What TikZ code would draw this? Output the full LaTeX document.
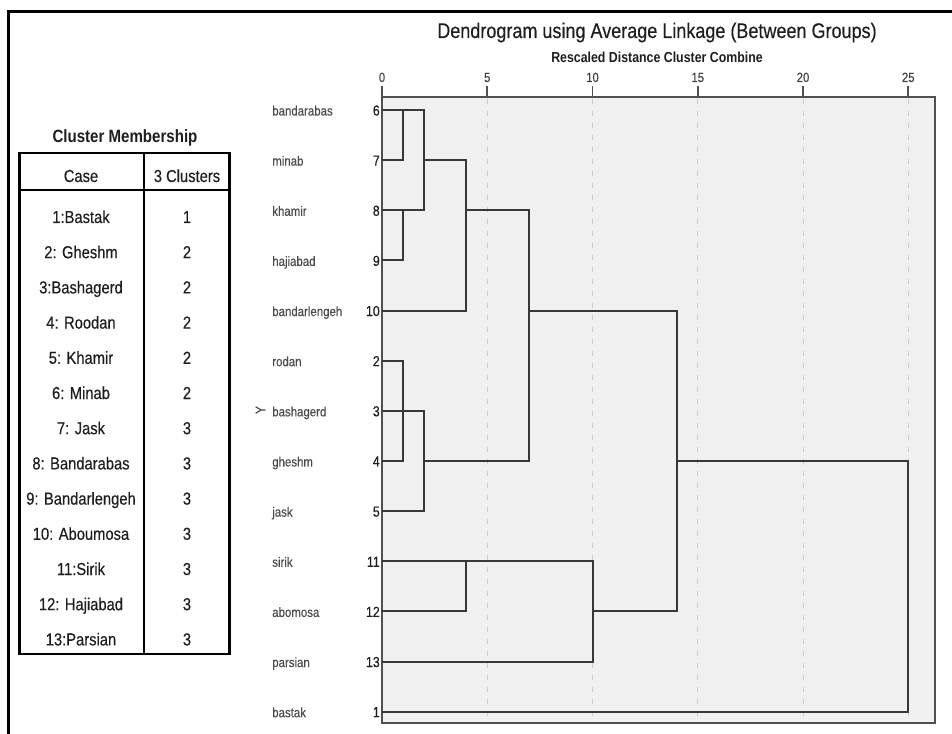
\documentclass[tikz,border=0pt]{standalone}
\usepackage{fontspec}
\newfontfamily\dfont{Liberation Sans}[FakeStretch=0.85, FakeBold=0.35]
\newfontfamily\dbfont{Liberation Sans Bold}[FakeStretch=0.85]
\definecolor{plotbg}{HTML}{F0F0F0}
\definecolor{linecol}{HTML}{383838}
\definecolor{framecol}{HTML}{505050}
\definecolor{gridcol}{HTML}{CCCCCC}
\definecolor{txtcol}{HTML}{1E1E1E}
\tikzset{
  dtitle/.style={anchor=base, inner sep=0pt, text=txtcol, font=\dfont\fontsize{15.9}{18}\selectfont},
  dsub/.style={anchor=base, inner sep=0pt, text=txtcol, font=\dbfont\fontsize{10.9}{12}\selectfont},
  ticklab/.style={anchor=base, inner sep=0pt, text=txtcol!85, font=\dfont\fontsize{10}{11}\selectfont},
  leaf/.style={anchor=base west, inner sep=0pt, text=txtcol!80, font=\dfont\fontsize{10.1}{12}\selectfont},
  leafnum/.style={anchor=base east, inner sep=0pt, text=txtcol, font=\dfont\fontsize{10.9}{12}\selectfont},
  cell/.style={anchor=base, inner sep=0pt, text=txtcol, font=\dfont\fontsize{13}{15}\selectfont},
  ttitle/.style={anchor=base, inner sep=0pt, text=txtcol, font=\dbfont\fontsize{13.3}{15}\selectfont},
  branch/.style={draw=linecol, line width=1.5pt},
  gridline/.style={draw=gridcol, line width=0.75pt, dash pattern=on 4pt off 5pt},
  tablerule/.style={draw=black, line width=1.9pt}
}
\begin{document}
\begin{tikzpicture}[x=0.75pt,y=-0.75pt]
  \useasboundingbox (0,0) rectangle (952,734);
  \draw[line width=2.6pt] (8.5,734) -- (8.5,11.5) -- (952,11.5);
  \node[dtitle] (title) at (657,38) {Dendrogram using Average Linkage (Between Groups)};
  \node[dsub] (subtitle) at (657,63) {Rescaled Distance Cluster Combine};
  \fill[plotbg] (382,97) rectangle (935,723);
  \foreach \v in {5,10,...,25}
    \draw[gridline] ({382+21.05*\v},99) -- ({382+21.05*\v},721);
  \foreach \v in {0,5,...,25} {
    \draw[framecol, line width=1.2pt] ({382+21.05*\v},86) -- ({382+21.05*\v},97);
    \node[ticklab] (tick\v) at ({382+21.05*\v},82) {\v};
  }
  \draw[framecol, line width=1.3pt] (382,97) rectangle (935,723);
  \foreach \d in {1,2,4,7,10,14,25}
    \coordinate (d\d) at ({382+21.05*\d},97);
  \foreach \n/\lab [count=\i from 0] in {6/bandarabas,7/minab,8/khamir,9/hajiabad,10/bandarlengeh,2/rodan,3/bashagerd,4/gheshm,5/jask,11/sirik,12/abomosa,13/parsian,1/bastak} {
    \pgfmathsetmacro\ry{110+50.14*\i}
    \node[leaf] (name\n) at (272,{\ry+5.5}) {\lab};
    \node[leafnum] (num\n) at (380,{\ry+5.5}) {\n};
    \coordinate (r\n) at (382,\ry);
  }
  \node[inner sep=0pt, rotate=90, text=txtcol!80, font=\dfont\fontsize{10.5}{12}\selectfont] (mark) at (260.5,410) {Y};
  \begin{scope}[branch]
    \draw (r6) -- (d2 |- r6) -- (d2 |- r8) -- (r8);
    \draw (r7) -- (d1 |- r7) -- (d1 |- r6);
    \draw (r9) -- (d1 |- r9) -- (d1 |- r8);
    \draw (r10) -- (d4 |- r10) -- (d4 |- r7) -- (d2 |- r7);
    \draw (d4 |- r8) -- (d7 |- r8) -- (d7 |- r4) -- (d2 |- r4);
    \draw (r2) -- (d1 |- r2) -- (d1 |- r4) -- (r4);
    \draw (r3) -- (d2 |- r3) -- (d2 |- r5) -- (r5);
    \draw (d7 |- r10) -- (d14 |- r10) -- (d14 |- r12) -- (d10 |- r12);
    \draw (r11) -- (d10 |- r11) -- (d10 |- r13) -- (r13);
    \draw (d4 |- r11) -- (d4 |- r12) -- (r12);
    \draw (d14 |- r4) -- (d25 |- r4) -- (d25 |- r1) -- (r1);
  \end{scope}
  \node[ttitle] (ctitle) at (125,143) {Cluster Membership};
  \draw[tablerule] (19.5,153) rectangle (229.5,654);
  \draw[tablerule] (19.5,190) -- (229.5,190);
  \draw[tablerule, line width=1.6pt] (144,153) -- (144,654);
  \node[cell] (hcase) at (81,182) {Case};
  \node[cell] (hclu) at (187,182) {3 Clusters};
  \foreach \case/\cl [count=\i from 0] in {1:Bastak/1,2: Gheshm/2,3:Bashagerd/2,4: Roodan/2,5: Khamir/2,6: Minab/2,7: Jask/3,8: Bandarabas/3,9: Bandarlengeh/3,10: Aboumosa/3,11:Sirik/3,12: Hajiabad/3,13:Parsian/3} {
    \pgfmathsetmacro\cy{223+35.2*\i}
    \node[cell] (case\i) at (81,\cy) {\case};
    \node[cell] (clu\i) at (187,\cy) {\cl};
  }
\end{tikzpicture}
\end{document}
